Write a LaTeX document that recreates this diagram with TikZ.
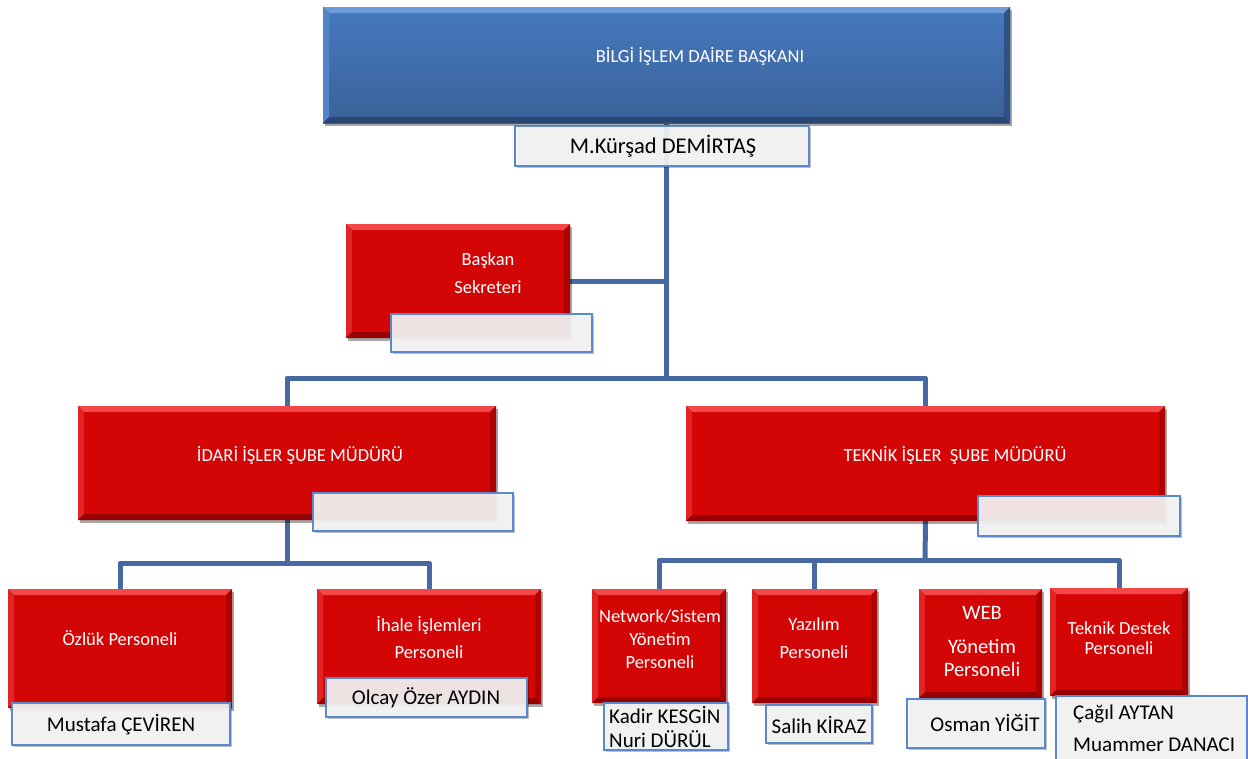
\documentclass[tikz,border=0pt]{standalone}
\usepackage{fontspec}
\setmainfont{Carlito}
\usetikzlibrary{shadows}
\pgfdeclarelayer{bg}
\pgfsetlayers{bg,main}
\definecolor{boxred}{HTML}{D40505}
\definecolor{redtop}{HTML}{F44848}
\definecolor{redleft}{HTML}{E22424}
\definecolor{redright}{HTML}{AE0202}
\definecolor{redbot}{HTML}{960000}
\definecolor{bluetopc}{HTML}{4679C0}
\definecolor{bluebotc}{HTML}{3A6198}
\definecolor{bluehi}{HTML}{6E9BDA}
\definecolor{blueleft}{HTML}{5585C8}
\definecolor{blueright}{HTML}{2F5284}
\definecolor{bluelow}{HTML}{2A4774}
\definecolor{connc}{HTML}{4569A0}
\definecolor{nameborder}{HTML}{5A88CC}
\definecolor{namefill}{HTML}{F6F6F6}
\tikzset{
  bevelled/.style n args={4}{path picture={
    \fill[#1] (path picture bounding box.north west) -- (path picture bounding box.north east)
      -- ([xshift=-6pt,yshift=-6pt]path picture bounding box.north east)
      -- ([xshift=6pt,yshift=-6pt]path picture bounding box.north west) -- cycle;
    \fill[#2] (path picture bounding box.north west) -- ([xshift=6pt,yshift=-6pt]path picture bounding box.north west)
      -- ([xshift=6pt,yshift=6pt]path picture bounding box.south west) -- (path picture bounding box.south west) -- cycle;
    \fill[#3] (path picture bounding box.north east) -- ([xshift=-6pt,yshift=-6pt]path picture bounding box.north east)
      -- ([xshift=-6pt,yshift=6pt]path picture bounding box.south east) -- (path picture bounding box.south east) -- cycle;
    \fill[#4] (path picture bounding box.south west) -- ([xshift=6pt,yshift=6pt]path picture bounding box.south west)
      -- ([xshift=-6pt,yshift=6pt]path picture bounding box.south east) -- (path picture bounding box.south east) -- cycle;
  }},
  redbox/.style={draw=none, fill=boxred, inner sep=0pt, outer sep=0pt, anchor=north west,
    drop shadow={shadow xshift=2pt, shadow yshift=-3pt, fill=black, opacity=0.35},
    bevelled={redtop}{redleft}{redright}{redbot}},
  bluebox/.style={draw=none, inner sep=0pt, outer sep=0pt, anchor=north west,
    top color=bluetopc, bottom color=bluebotc,
    drop shadow={shadow xshift=2pt, shadow yshift=-3pt, fill=black, opacity=0.35},
    bevelled={bluehi}{blueleft}{blueright}{bluelow}},
  namebox/.style={draw=nameborder, line width=1.6pt, fill=namefill, fill opacity=0.92,
    text opacity=1, inner sep=0pt, outer sep=0pt, anchor=north west,
    drop shadow={shadow xshift=2pt, shadow yshift=-2pt, fill=black, opacity=0.25}},
  wlabel/.style={text=white, inner sep=0pt, align=center},
  nlabel/.style={text=black, inner sep=0pt, font=\fontsize{21}{24}\selectfont},
  connector/.style={draw=connc, line width=5pt, line join=round}
}
\begin{document}
\begin{tikzpicture}[x=1pt,y=-1pt]
\begin{pgfonlayer}{bg}
\fill[white] (0,0) rectangle (1248,758);
\end{pgfonlayer}
\useasboundingbox (0,0) rectangle (1248,758);

% junction coordinates
\coordinate (bus1) at (666.5,378);
\coordinate (bus2) at (287,563);
\coordinate (bus3) at (925,560);

% boxes
\path (323,7) node[bluebox, minimum width=687, minimum height=116] (top) {};
\path (346,224) node[redbox, minimum width=224, minimum height=114] (sek) {};
\path (78,406) node[redbox, minimum width=418, minimum height=114] (idari) {};
\path (686,406) node[redbox, minimum width=479, minimum height=115] (teknik) {};
\path (8,589) node[redbox, minimum width=224, minimum height=119] (ozluk) {};
\path (317,589) node[redbox, minimum width=224, minimum height=115] (ihale) {};
\path (592,589) node[redbox, minimum width=134, minimum height=114] (network) {};
\path (752,589) node[redbox, minimum width=125, minimum height=114] (yazilim) {};
\path (919,589) node[redbox, minimum width=123, minimum height=109] (web) {};
\path (1050,588) node[redbox, minimum width=138, minimum height=108] (destek) {};

% connectors behind the boxes
\begin{pgfonlayer}{bg}
\draw[connector] (top.south) -- (top.south |- bus1);
\draw[connector] (sek.east) -- (sek.east -| top.south);
\draw[connector] (idari.north) |- (bus1) -| (teknik.north);
\draw[connector] (idari.south) -- (bus2);
\draw[connector] (ozluk.north) |- (bus2) -| (ihale.north);
\draw[connector] (teknik.south) -- (bus3);
\draw[connector] (network.north) |- (bus3) -| (destek.north);
\draw[connector] (yazilim.north) -- (yazilim.north |- bus3);
\end{pgfonlayer}

% labels in boxes
\node[wlabel, font=\fontsize{18.5}{22}\selectfont] (top-t) at (700,57) {BİLGİ İŞLEM DAİRE BAŞKANI};
\node[wlabel, font=\fontsize{18.5}{28}\selectfont] (sek-t) at (488,273) {Başkan\\Sekreteri};
\node[wlabel, font=\fontsize{18.5}{22}\selectfont] (idari-t) at (300,455) {İDARİ İŞLER ŞUBE MÜDÜRÜ};
\node[wlabel, font=\fontsize{18.5}{22}\selectfont] (teknik-t) at (955,455) {TEKNİK İŞLER\ \ ŞUBE MÜDÜRÜ};
\node[wlabel, font=\fontsize{18.5}{22}\selectfont] (ozluk-t) at (120,638) {Özlük Personeli};
\node[wlabel, font=\fontsize{18.5}{27}\selectfont] (ihale-t) at (429,638) {İhale İşlemleri\\Personeli};
\node[wlabel, font=\fontsize{18.5}{23}\selectfont] (network-t) at (660,639) {Network/Sistem\\Yönetim\\Personeli};
\node[wlabel, font=\fontsize{18.5}{28}\selectfont] (yazilim-t) at (814,638) {Yazılım\\Personeli};
\node[wlabel, font=\fontsize{20.5}{23}\selectfont] (web-t) at (982,641) {WEB\\[11pt]Yönetim\\Personeli};
\node[wlabel, font=\fontsize{18.5}{20}\selectfont] (destek-t) at (1119,638) {Teknik Destek\\Personeli};

% name boxes
\node[namebox, minimum width=294, minimum height=40] (kursad) at (515,126) {};
\node[nlabel, font=\fontsize{22.5}{24}\selectfont] (kursad-t) at (663,146) {M.Kürşad DEMİRTAŞ};
\node[namebox, minimum width=201, minimum height=38] (sek-n) at (391,314) {};
\node[namebox, minimum width=200, minimum height=38] (idari-n) at (313,493) {};
\node[namebox, minimum width=202, minimum height=40] (teknik-n) at (978,496) {};
\node[namebox, minimum width=218, minimum height=42] (mustafa) at (12,703) {};
\node[nlabel] (mustafa-t) at (121,725) {Mustafa ÇEVİREN};
\node[namebox, minimum width=201, minimum height=39] (olcay) at (326,678) {};
\node[nlabel] (olcay-t) at (426,698) {Olcay Özer AYDIN};
\node[namebox, minimum width=124, minimum height=47] (kadir) at (604,703) {};
\node[nlabel, anchor=west, align=left, font=\fontsize{21}{24}\selectfont] (kadir-t) at (609,727) {Kadir KESGİN\\Nuri DÜRÜL};
\node[namebox, minimum width=106, minimum height=38] (salih) at (766,705) {};
\node[nlabel] (salih-t) at (819,725) {Salih KİRAZ};
\node[namebox, minimum width=138, minimum height=49] (osman) at (907,699) {};
\node[nlabel] (osman-t) at (985,723) {Osman YİĞİT};
\node[namebox, minimum width=191, minimum height=70] (cagil) at (1056,696) {};
\node[nlabel, anchor=west, align=left, font=\fontsize{21}{32}\selectfont] (cagil-t) at (1073,728) {Çağıl AYTAN\\Muammer DANACI};
\end{tikzpicture}
\end{document}
